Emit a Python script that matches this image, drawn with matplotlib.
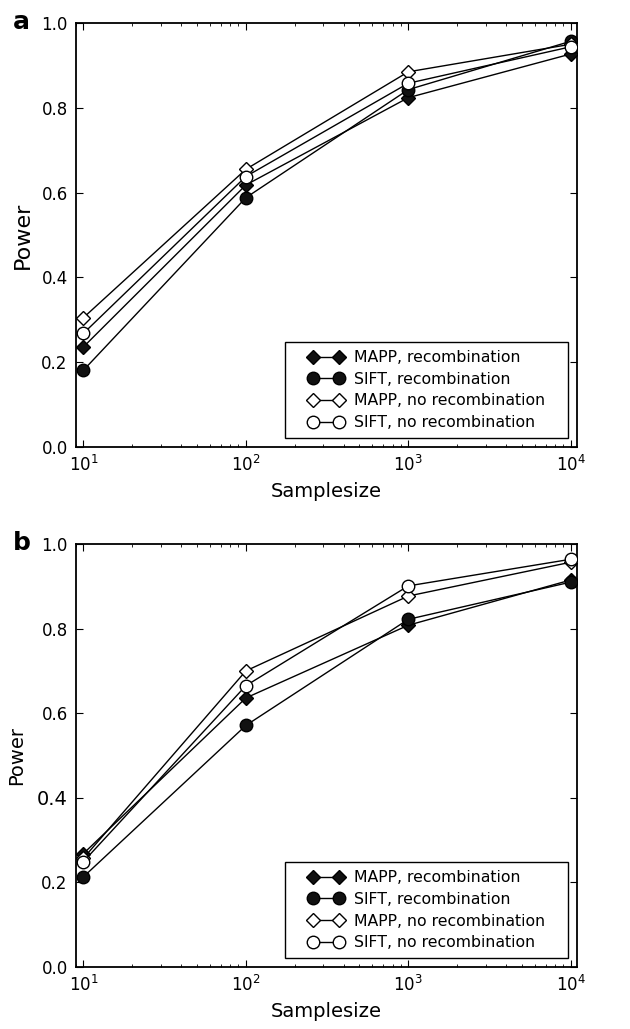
import matplotlib
matplotlib.use("Agg")
import matplotlib.pyplot as plt
from matplotlib.patches import Rectangle

# sample sizes
samplesize = [10, 100, 1000, 10000]

# panel a
a_mapp_rec = [0.236, 0.618, 0.824, 0.927]
a_sift_rec = [0.181, 0.588, 0.843, 0.957]
a_mapp_norec = [0.305, 0.655, 0.885, 0.950]
a_sift_norec = [0.268, 0.638, 0.858, 0.944]

# panel b
b_mapp_rec = [0.268, 0.636, 0.808, 0.915]
b_sift_rec = [0.213, 0.571, 0.822, 0.910]
b_mapp_norec = [0.257, 0.700, 0.877, 0.957]
b_sift_norec = [0.249, 0.665, 0.901, 0.964]

labels = ["MAPP, recombination", "SIFT, recombination",
          "MAPP, no recombination", "SIFT, no recombination"]
yticks = [0.0, 0.2, 0.4, 0.6, 0.8, 1.0]

fig = plt.figure(figsize=(6.3, 10.29), dpi=100)
ax_a = fig.add_axes([0.1206, 0.5656, 0.795, 0.412])
ax_b = fig.add_axes([0.1206, 0.0603, 0.795, 0.411])


def draw(ax, series, letter, ylab_size, ylab_pad):
    styles = [("D", "#111111"), ("o", "#111111"), ("D", "white"), ("o", "white")]
    for vals, (m, fc), lab in zip(series, styles, labels):
        ax.plot(samplesize, vals, "-", color="black", lw=1.0, marker=m,
                markersize=9 if m == "o" else 7, markerfacecolor=fc,
                markeredgecolor="black", markeredgewidth=1.0, label=lab,
                zorder=3)
    ax.set_xscale("log")
    ax.set_xlim(9.0, 10900)
    ax.set_ylim(0, 1.0)
    ax.set_yticks(yticks)
    ax.set_yticklabels(["%.1f" % t for t in yticks])
    ax.tick_params(which="both", direction="in", top=True, right=True, labelsize=12)
    ax.tick_params(which="major", length=5, pad=6)
    ax.tick_params(which="minor", length=2.5)
    for s in ax.spines.values():
        s.set_linewidth(1.3)
    ax.set_xlabel("Samplesize", fontsize=14, labelpad=5)
    ax.set_ylabel("Power", fontsize=ylab_size, labelpad=ylab_pad)
    # legend box drawn by hand, contents centred in it
    x0, y0, x1, y1 = 0.417, 0.021, 0.982, 0.247
    ax.add_patch(Rectangle((x0, y0), x1 - x0, y1 - y0, transform=ax.transAxes,
                           facecolor="white", edgecolor="black", lw=1.0, zorder=4))
    ax.legend(loc="center", bbox_to_anchor=((x0 + x1) / 2, (y0 + y1) / 2),
              numpoints=2, fontsize=11.3, frameon=False, handlelength=2.25,
              handletextpad=0.65, labelspacing=0.42, borderpad=0.0
              ).set_zorder(5)
    ax.text(-0.126, 1 - 6 / 424, letter, transform=ax.transAxes, fontsize=18,
            fontweight="bold", va="baseline", ha="left")


draw(ax_a, [a_mapp_rec, a_sift_rec, a_mapp_norec, a_sift_norec], "a", 16, 6)
draw(ax_b, [b_mapp_rec, b_sift_rec, b_mapp_norec, b_sift_norec], "b", 14, 8)
ax_b.get_yticklabels()[2].set_fontsize(14)

fig.savefig("out.png", dpi=100)
